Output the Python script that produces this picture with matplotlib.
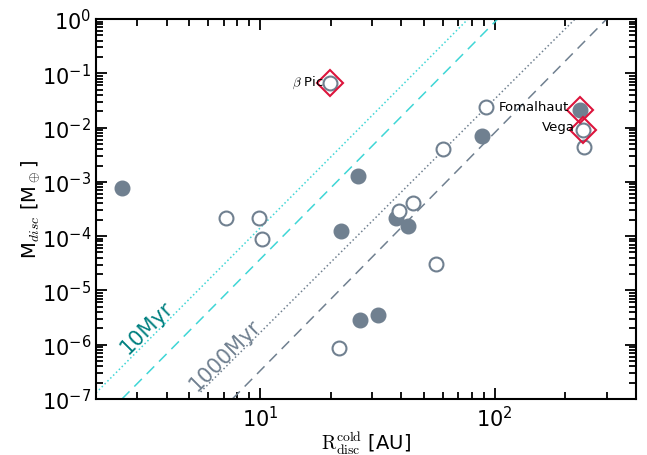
import matplotlib
matplotlib.use("Agg")
import matplotlib.pyplot as plt
from matplotlib.ticker import NullFormatter
import numpy as np

plt.rcParams['mathtext.fontset'] = 'cm'
plt.rcParams['font.family'] = ['DejaVu Sans']

# Debris discs: cold disc radius [AU] and disc mass [M_earth]
filled_R = [2.57, 26.2, 22.2, 37.8, 42.7, 26.7, 31.7, 88.3, 230]
filled_M = [7.6e-4, 1.28e-3, 1.22e-4, 2.2e-4, 1.52e-4, 2.9e-6, 3.59e-6, 6.9e-3, 2.11e-2]

open_R = [19.9, 7.13, 9.92, 10.2, 21.8, 39.2, 44.7, 56.0, 60.1, 91.4, 238, 240]
open_M = [0.066, 2.19e-4, 2.19e-4, 8.9e-5, 8.8e-7, 2.92e-4, 4.05e-4, 3.08e-5, 4.03e-3, 0.0239, 8.95e-3, 4.33e-3]

# Highlighted named discs
named = ["$\\beta$ Pic", "Fomalhaut", "Vega"]
named_R = [19.9, 230, 238]
named_M = [0.066, 2.11e-2, 8.95e-3]

# Maximum-mass lines (read endpoints)
l10_dot_R = [2.0, 77.0]
l10_dot_M = [1.3e-7, 1.0]
l10_dash_R = [2.58, 103.0]
l10_dash_M = [1e-7, 1.0]
l1000_dot_R = [5.58, 220.0]
l1000_dot_M = [1.35e-7, 1.0]
l1000_dash_R = [7.62, 300.0]
l1000_dash_M = [1e-7, 1.0]

fig = plt.figure(figsize=(6.47, 4.56), dpi=100)
ax = fig.add_axes([0.1484, 0.1228, 0.8346, 0.8333])
ax.set_xscale('log')
ax.set_yscale('log')

cyan = '#3fd6d6'
gray = '#708090'
ax.plot(l10_dot_R, l10_dot_M, ls=':', color=cyan, lw=1.1)
ax.plot(l10_dash_R, l10_dash_M, ls=(0, (7, 4.5)), color=cyan, lw=1.1)
ax.plot(l1000_dot_R, l1000_dot_M, ls=':', color=gray, lw=1.1)
ax.plot(l1000_dash_R, l1000_dash_M, ls=(0, (7, 4.5)), color=gray, lw=1.1)

ax.plot(filled_R, filled_M, 'o', ms=10.5, color=gray, mec=gray, ls='none')
ax.plot(open_R, open_M, 'o', ms=10, mfc='white', mec=gray, mew=1.5, ls='none')
ax.plot(named_R, named_M, 'D', ms=13, mfc='none', mec='#dc143c', mew=1.5, ls='none')

ax.text(18.7, 0.07, named[0], ha='right', va='center', fontsize=9.5)
ax.text(208, 0.0245, named[1], ha='right', va='center', fontsize=9.5)
ax.text(220, 0.0103, named[2], ha='right', va='center', fontsize=9.5)

ax.text(3.3, 2.12e-6, "10Myr", rotation=45, color='#008080', fontsize=15,
        ha='center', va='center')
ax.text(7.1, 6.5e-7, "1000Myr", rotation=45, color=gray, fontsize=15,
        ha='center', va='center')

ax.set_xlim(2, 400)
ax.set_ylim(1e-7, 1)
ax.xaxis.set_minor_formatter(NullFormatter())
ax.yaxis.set_minor_formatter(NullFormatter())
ax.tick_params(which='both', direction='in', top=True, right=True, width=1.3,
               labelsize=15)
ax.tick_params(which='major', length=8)
ax.tick_params(which='minor', length=5)
ax.tick_params(axis='x', which='major', pad=4)
for s in ax.spines.values():
    s.set_linewidth(1.5)

ax.set_xlabel("$\\mathrm{R_{disc}^{cold}}$ [AU]", fontsize=14, labelpad=0)
ax.set_ylabel("M$_{disc}$ [M$_\\oplus$]", fontsize=14, labelpad=0)

fig.savefig("out.png", dpi=100)
